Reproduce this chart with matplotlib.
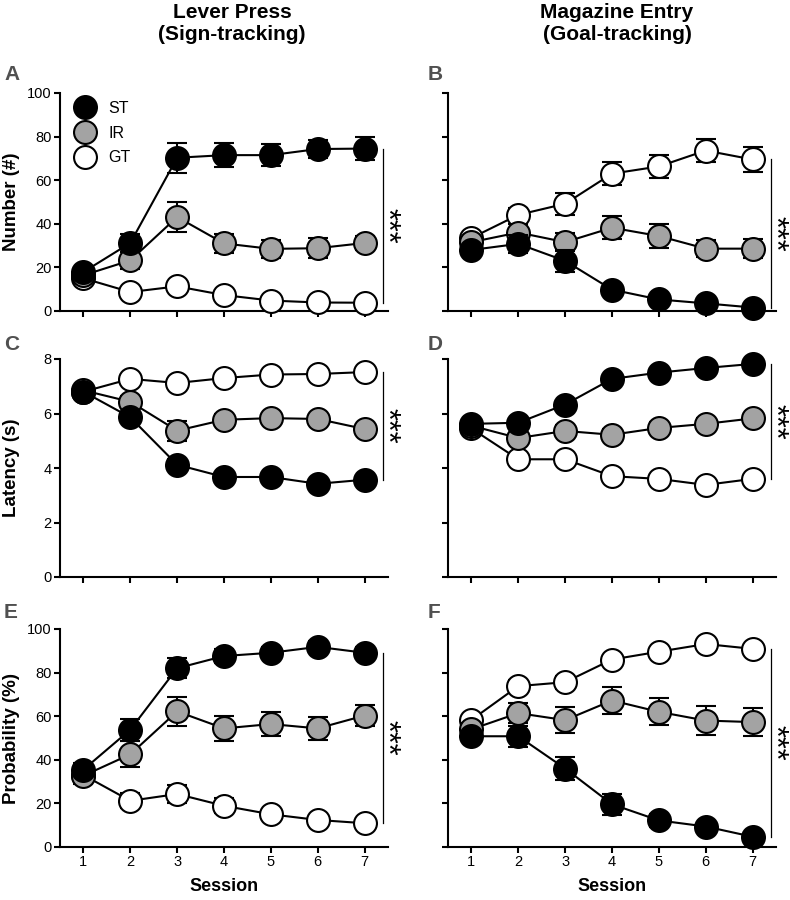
"""Lever press and magazine entry across sessions for ST, IR and GT rats."""

import matplotlib

matplotlib.use('Agg')
import matplotlib.pyplot as plt
from matplotlib.lines import Line2D

plt.rcParams['font.family'] = ['Liberation Sans', 'DejaVu Sans']

sessions = [1, 2, 3, 4, 5, 6, 7]
group_names = ['ST', 'IR', 'GT']

# A: lever press number
st_lever_number = [17.9, 31.2, 70.3, 71.5, 71.5, 74.3, 74.5]
st_lever_number_sem = [2.5, 4.0, 6.9, 5.5, 5.0, 4.0, 5.4]
ir_lever_number = [16.4, 23.2, 43.1, 31.0, 28.5, 28.8, 31.2]
ir_lever_number_sem = [2.0, 4.0, 7.0, 4.5, 4.0, 4.5, 3.0]
gt_lever_number = [15.0, 8.7, 11.3, 7.3, 4.8, 3.9, 3.8]
gt_lever_number_sem = [1.5, 1.5, 2.0, 1.5, 1.0, 1.0, 1.0]

# B: magazine entry number
st_mag_number = [28.0, 30.8, 23.0, 9.8, 5.3, 3.5, 1.6]
st_mag_number_sem = [2.5, 4.0, 5.0, 2.5, 1.5, 1.0, 0.8]
ir_mag_number = [31.6, 36.0, 31.6, 38.2, 34.4, 28.6, 28.6]
ir_mag_number_sem = [2.5, 4.0, 4.0, 5.3, 5.5, 4.0, 4.5]
gt_mag_number = [33.5, 44.1, 49.2, 63.0, 66.3, 73.6, 69.5]
gt_mag_number_sem = [2.0, 3.0, 5.0, 5.3, 5.3, 5.3, 5.7]

# C: lever press latency
st_lever_latency = [6.8, 5.86, 4.12, 3.67, 3.67, 3.42, 3.57]
st_lever_latency_sem = [0.1, 0.15, 0.2, 0.12, 0.12, 0.1, 0.12]
ir_lever_latency = [6.85, 6.43, 5.37, 5.77, 5.83, 5.8, 5.43]
ir_lever_latency_sem = [0.1, 0.2, 0.37, 0.2, 0.2, 0.2, 0.15]
gt_lever_latency = [6.8, 7.27, 7.12, 7.3, 7.43, 7.45, 7.52]
gt_lever_latency_sem = [0.1, 0.1, 0.1, 0.1, 0.1, 0.1, 0.1]

# D: magazine entry latency
st_mag_latency = [5.62, 5.66, 6.33, 7.27, 7.5, 7.67, 7.82]
st_mag_latency_sem = [0.1, 0.1, 0.1, 0.1, 0.1, 0.1, 0.1]
ir_mag_latency = [5.55, 5.1, 5.36, 5.22, 5.47, 5.62, 5.82]
ir_mag_latency_sem = [0.2, 0.2, 0.2, 0.2, 0.2, 0.2, 0.2]
gt_mag_latency = [5.45, 4.32, 4.32, 3.7, 3.6, 3.38, 3.6]
gt_mag_latency_sem = [0.15, 0.15, 0.15, 0.2, 0.15, 0.15, 0.15]

# E: lever press probability
st_lever_prob = [35.5, 53.8, 82.0, 87.6, 89.1, 91.8, 89.1]
st_lever_prob_sem = [3.0, 5.0, 4.7, 3.0, 2.5, 2.5, 2.5]
ir_lever_prob = [32.7, 42.5, 62.2, 54.4, 56.4, 54.4, 60.3]
ir_lever_prob_sem = [4.0, 6.0, 6.7, 5.7, 5.4, 5.1, 4.7]
gt_lever_prob = [33.0, 21.2, 24.3, 18.9, 15.0, 12.4, 10.9]
gt_lever_prob_sem = [3.0, 3.5, 4.0, 3.5, 2.0, 2.0, 1.5]

# F: magazine entry probability
st_mag_prob = [50.8, 50.8, 36.0, 19.6, 12.2, 9.4, 4.7]
st_mag_prob_sem = [2.0, 4.8, 5.2, 4.7, 3.0, 2.0, 1.5]
ir_mag_prob = [54.0, 61.4, 58.2, 67.2, 62.0, 58.0, 57.3]
ir_mag_prob_sem = [3.0, 4.5, 6.0, 6.2, 6.2, 6.5, 6.5]
gt_mag_prob = [58.3, 73.8, 75.6, 86.0, 89.6, 93.1, 90.9]
gt_mag_prob_sem = [2.0, 3.0, 3.0, 2.0, 2.0, 2.0, 2.0]

column_titles = [('Lever Press', '(Sign-tracking)'), ('Magazine Entry', '(Goal-tracking)')]
row_ylabels = ['Number (#)', 'Latency (s)', 'Probability (%)']
row_ylims = [(0, 100), (0, 8), (0, 100)]
row_yticks = [[0, 20, 40, 60, 80, 100], [0, 2, 4, 6, 8], [0, 20, 40, 60, 80, 100]]
panel_letters = [['A', 'B'], ['C', 'D'], ['E', 'F']]

panels = [
    [
        (st_lever_number, st_lever_number_sem, ir_lever_number, ir_lever_number_sem,
         gt_lever_number, gt_lever_number_sem),
        (st_mag_number, st_mag_number_sem, ir_mag_number, ir_mag_number_sem,
         gt_mag_number, gt_mag_number_sem),
    ],
    [
        (st_lever_latency, st_lever_latency_sem, ir_lever_latency, ir_lever_latency_sem,
         gt_lever_latency, gt_lever_latency_sem),
        (st_mag_latency, st_mag_latency_sem, ir_mag_latency, ir_mag_latency_sem,
         gt_mag_latency, gt_mag_latency_sem),
    ],
    [
        (st_lever_prob, st_lever_prob_sem, ir_lever_prob, ir_lever_prob_sem,
         gt_lever_prob, gt_lever_prob_sem),
        (st_mag_prob, st_mag_prob_sem, ir_mag_prob, ir_mag_prob_sem,
         gt_mag_prob, gt_mag_prob_sem),
    ],
]

FACE = {'ST': 'black', 'IR': '#a3a3a3', 'GT': 'white'}
ZORDER = {'GT': 3, 'IR': 5, 'ST': 7}
MS = 16.5
MEW = 1.5

W, H = 790, 900
col_left = [60, 448]
col_width = 328
row_top = [93, 359, 629]
row_height = 218


def draw_group(ax, name, values, sem):
    z = ZORDER[name]
    ax.errorbar(sessions, values, yerr=sem, fmt='none', ecolor='black',
                elinewidth=1.5, capsize=7, capthick=1.5, zorder=z)
    ax.plot(sessions, values, color='black', linewidth=1.5, marker='o',
            markersize=MS, markerfacecolor=FACE[name], markeredgecolor='black',
            markeredgewidth=MEW, zorder=z + 0.5, clip_on=False)


fig = plt.figure(figsize=(W / 100, H / 100), dpi=100)

for r in range(3):
    for c in range(2):
        rect = [col_left[c] / W, 1 - (row_top[r] + row_height) / H,
                col_width / W, row_height / H]
        ax = fig.add_axes(rect)
        st, st_sem, ir, ir_sem, gt, gt_sem = panels[r][c]
        draw_group(ax, 'GT', gt, gt_sem)
        draw_group(ax, 'IR', ir, ir_sem)
        draw_group(ax, 'ST', st, st_sem)

        ax.set_xlim(0.5, 7.5)
        ax.set_ylim(*row_ylims[r])
        ax.set_xticks(sessions)
        ax.set_yticks(row_yticks[r])
        for side in ('top', 'right'):
            ax.spines[side].set_visible(False)
        for side in ('left', 'bottom'):
            ax.spines[side].set_linewidth(1.5)
        ax.tick_params(direction='out', length=4.5, width=1.5, labelsize=10.5, pad=1.5)
        if r < 2:
            ax.tick_params(axis='x', labelbottom=False)
        else:
            ax.set_xlabel('Session', fontsize=13, fontweight='bold')
            ax.xaxis.set_label_coords(0.5, -0.14)
        if c == 0:
            ax.set_ylabel(row_ylabels[r], fontsize=13.5, fontweight='bold')
            ax.yaxis.set_label_coords(-0.122, 0.5)
        else:
            ax.tick_params(axis='y', labelleft=False)

        # significance bar spanning the last-session group means
        last = [st[-1], ir[-1], gt[-1]]
        lo, hi = min(last), max(last)
        ax.plot([7.4, 7.4], [lo, hi], color='black', linewidth=0.9, clip_on=False)
        ax.text(7.44, (lo + hi) / 2, '***', rotation=270, ha='center', va='center',
                fontsize=22, clip_on=False)

        if r == 0 and c == 0:
            handles = [
                Line2D([], [], linestyle='none', marker='o', markersize=MS,
                       markerfacecolor=FACE[g], markeredgecolor='black',
                       markeredgewidth=MEW)
                for g in group_names
            ]
            ax.legend(handles, group_names, loc='upper left',
                      bbox_to_anchor=(0.053, 0.963), frameon=False, fontsize=11.5,
                      handlelength=1.0, handletextpad=0.95, labelspacing=0.6,
                      borderpad=0, borderaxespad=0)

        letter_x = 4 if c == 0 else 428
        letter_y = [75, 344, 613][r]
        fig.text(letter_x / W, 1 - letter_y / H, panel_letters[r][c], fontsize=15,
                 fontweight='bold', color='#505050', ha='left', va='center')

title_x = [232, 617]
for c, (line1, line2) in enumerate(column_titles):
    fig.text(title_x[c] / W, 1 - 12 / H, line1, fontsize=15, fontweight='bold',
             ha='center', va='center')
    fig.text(title_x[c] / W, 1 - 34 / H, line2, fontsize=15, fontweight='bold',
             ha='center', va='center')

fig.savefig('out.png', dpi=100)
